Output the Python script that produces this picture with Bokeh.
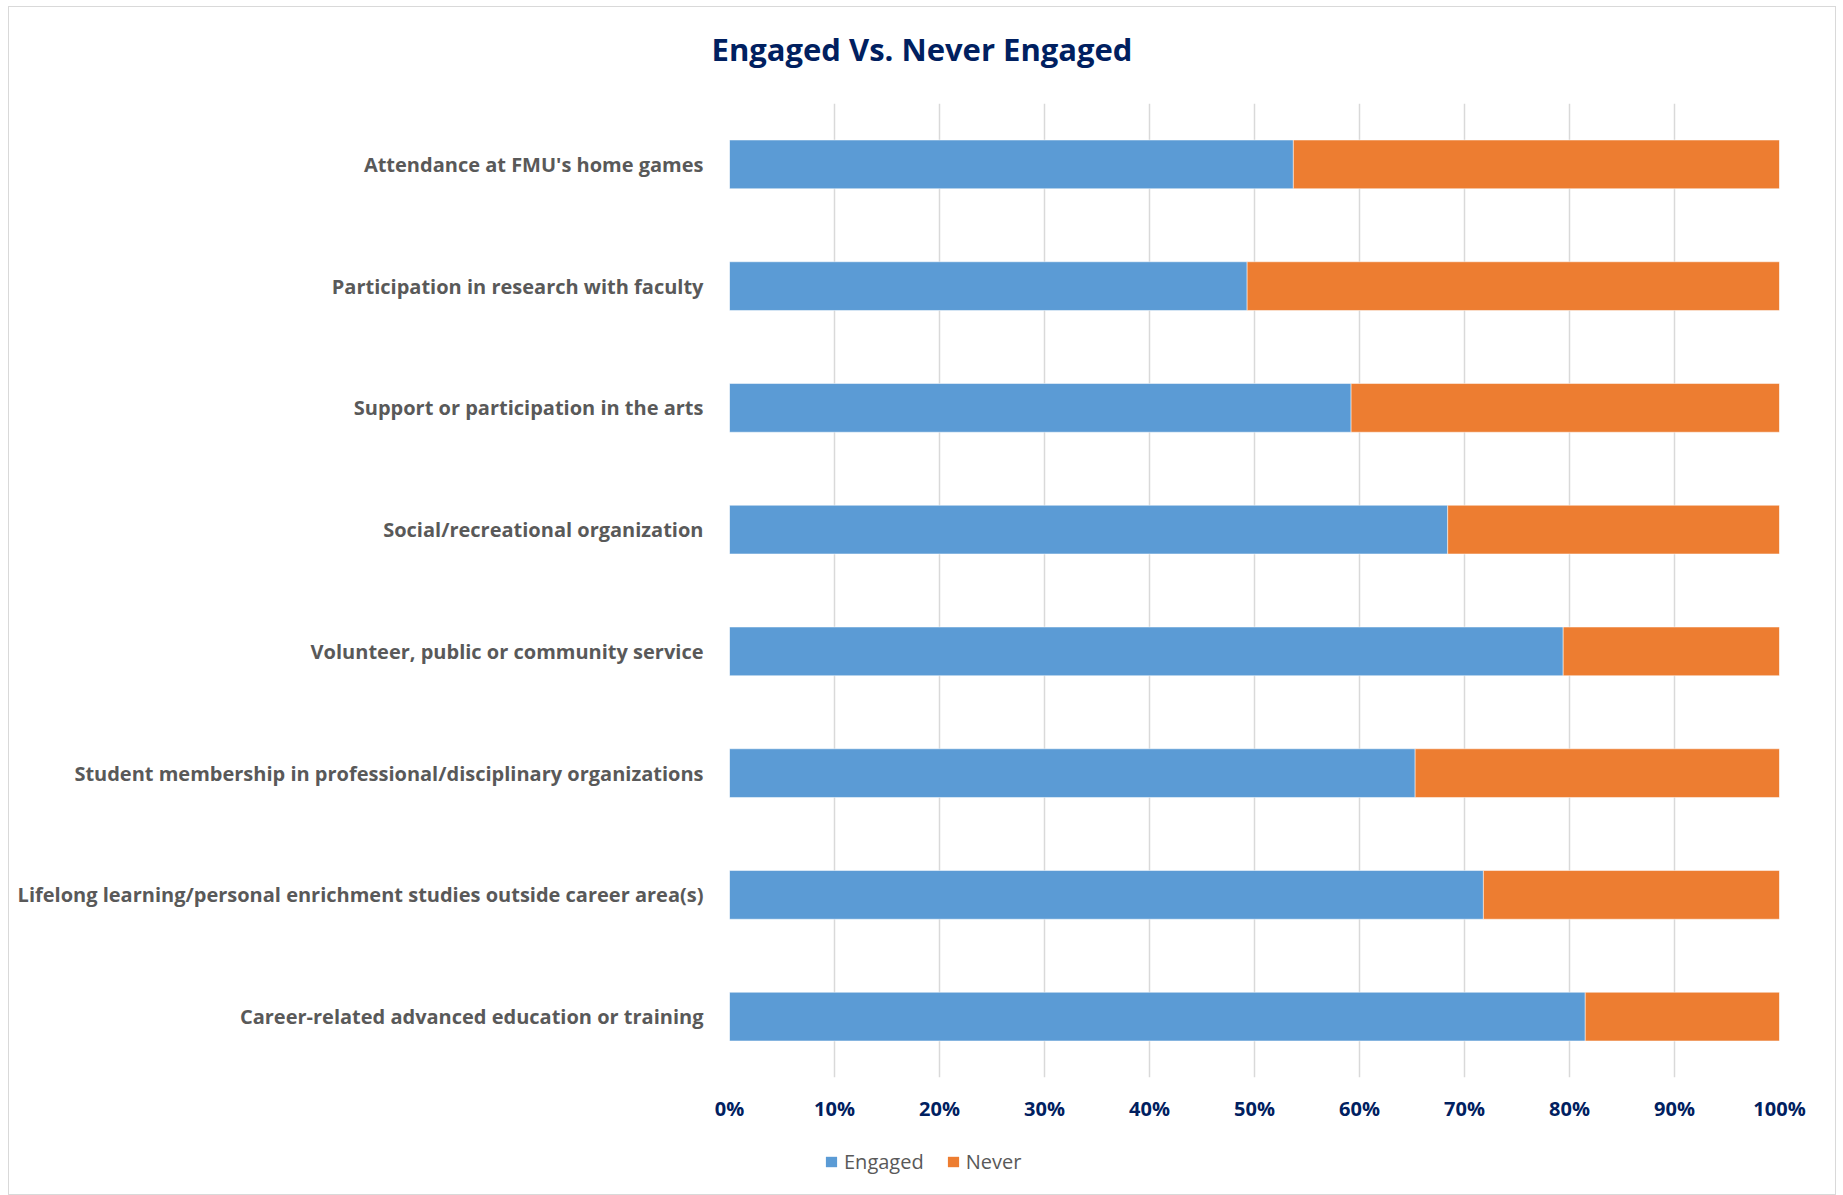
from bokeh.plotting import figure
from bokeh.layouts import column
from bokeh.models import ColumnDataSource, Legend, FixedTicker, PrintfTickFormatter, Range1d, Div
from bokeh.embed import file_html
from bokeh.resources import INLINE

title_text = "Engaged Vs. Never Engaged"
categories = [
    "Attendance at FMU's home games",
    "Participation in research with faculty",
    "Support or participation in the arts",
    "Social/recreational organization",
    "Volunteer, public or community service",
    "Student membership in professional/disciplinary organizations",
    "Lifelong learning/personal enrichment studies outside career area(s)",
    "Career-related advanced education or training",
]
engaged = [53.7, 49.3, 59.2, 68.4, 79.4, 65.3, 71.8, 81.5]
never = [46.3, 50.7, 40.8, 31.6, 20.6, 34.7, 28.2, 18.5]
series = ["Engaged", "Never"]
colors = ["#5B9BD5", "#ED7D31"]
x_ticks = [0, 10, 20, 30, 40, 50, 60, 70, 80, 90, 100]

W = 1826

# title strip
title_div = Div(text=title_text, width=W, height=90, margin=0,
                styles={"font-family": "Open Sans", "font-size": "31px",
                        "font-weight": "bold", "color": "#002060",
                        "text-align": "center", "line-height": "84px"})

# main chart
source = ColumnDataSource(dict(cat=categories, Engaged=engaged, Never=never))
p = figure(
    width=W, height=1030,
    y_range=categories[::-1], x_range=Range1d(0, 100),
    output_backend="svg", toolbar_location=None,
    min_border_left=720, min_border_right=56, min_border_top=6, min_border_bottom=50,
)
p.outline_line_color = None

p.hbar_stack(series, y="cat", height=0.4, color=colors, source=source,
             line_color="white", line_width=0.5)

p.xaxis.ticker = FixedTicker(ticks=x_ticks)
p.xaxis.formatter = PrintfTickFormatter(format="%d%%")
p.xaxis.axis_line_color = None
p.xaxis.major_tick_line_color = None
p.xaxis.minor_tick_line_color = None
p.xaxis.major_label_text_font = "Open Sans"
p.xaxis.major_label_text_font_size = "20px"
p.xaxis.major_label_text_font_style = "bold"
p.xaxis.major_label_text_color = "#002060"
p.xaxis.major_label_standoff = 11

p.yaxis.axis_line_color = None
p.yaxis.major_tick_line_color = None
p.yaxis.minor_tick_line_color = None
p.yaxis.major_label_text_font = "Open Sans"
p.yaxis.major_label_text_font_size = "20px"
p.yaxis.major_label_text_font_style = "bold"
p.yaxis.major_label_text_color = "#595959"
p.yaxis.major_label_standoff = 20

p.xgrid.ticker = FixedTicker(ticks=x_ticks)
p.xgrid.grid_line_color = "#D9D9D9"
p.xgrid.grid_line_width = 1.5
p.ygrid.grid_line_color = None

# legend strip below the chart (zero-size swatch glyphs only feed the legend)
leg_src = ColumnDataSource(dict(y=[0.5], left=[0], right=[0]))
p2 = figure(width=W, height=67, x_range=Range1d(0, 1), y_range=Range1d(0, 1),
            output_backend="svg", toolbar_location=None,
            x_axis_location=None, y_axis_location=None, min_border=0)
p2.outline_line_color = None
p2.grid.visible = False
leg_renderers = [p2.hbar(y="y", left="left", right="right", height=0, fill_color=c,
                         line_color=None, source=leg_src) for c in colors]

legend = Legend(items=[(s, [r]) for s, r in zip(series, leg_renderers)],
                orientation="horizontal", location=(95, 19),
                label_text_font="Open Sans", label_text_font_size="20px",
                label_text_color="#595959", glyph_width=14, glyph_height=13,
                label_standoff=6, spacing=22, border_line_color=None,
                background_fill_alpha=0, margin=0, padding=0)
p2.add_layout(legend)

layout = column(title_div, p, p2, spacing=0)
layout.styles = {"border": "1px solid #D9D9D9", "margin-left": "8px", "margin-top": "6px"}

open("out.html", "w").write(file_html(layout, INLINE))
